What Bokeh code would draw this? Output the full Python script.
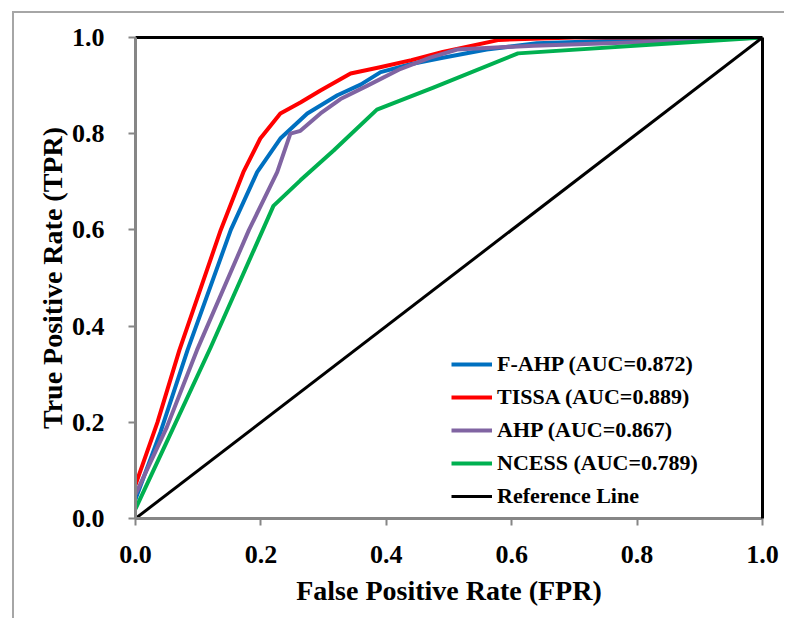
from bokeh.plotting import figure
from bokeh.models import (Range1d, FixedTicker, LinearAxis, Legend, LegendItem,
                          PrintfTickFormatter)
from bokeh.embed import file_html
from bokeh.resources import INLINE

# ---- data ----
fahp_fpr = [0, 0.04, 0.083, 0.152, 0.194, 0.231, 0.274, 0.322, 0.359, 0.391, 0.44, 0.49, 0.56, 0.64, 0.8, 1.0]
fahp_tpr = [0.04, 0.18, 0.35, 0.6, 0.72, 0.79, 0.842, 0.88, 0.902, 0.928, 0.945, 0.958, 0.975, 0.988, 0.995, 1.0]

tissa_fpr = [0, 0.035, 0.07, 0.136, 0.172, 0.199, 0.231, 0.263, 0.295, 0.343, 0.39, 0.44, 0.49, 0.58, 0.7, 0.85, 1.0]
tissa_tpr = [0.07, 0.2, 0.35, 0.6, 0.72, 0.79, 0.842, 0.865, 0.89, 0.925, 0.938, 0.953, 0.97, 0.995, 1.0, 1.0, 1.0]

ahp_fpr = [0, 0.05, 0.098, 0.181, 0.226, 0.247, 0.263, 0.295, 0.327, 0.37, 0.423, 0.47, 0.513, 0.635, 0.8, 1.0]
ahp_tpr = [0.05, 0.19, 0.35, 0.6, 0.72, 0.80, 0.806, 0.842, 0.872, 0.90, 0.935, 0.958, 0.975, 0.983, 0.99, 1.0]

ncess_fpr = [0, 0.05, 0.12, 0.22, 0.263, 0.316, 0.385, 0.475, 0.61, 1.0]
ncess_tpr = [0.02, 0.16, 0.356, 0.65, 0.703, 0.765, 0.85, 0.896, 0.967, 1.0]

ref_fpr = [0, 1]
ref_tpr = [0, 1]

labels = ["F-AHP (AUC=0.872)", "TISSA (AUC=0.889)", "AHP (AUC=0.867)",
          "NCESS (AUC=0.789)", "Reference Line"]
colors = ["#0070C0", "#FF0000", "#8064A2", "#00B050", "#000000"]
tick_values = [0.0, 0.2, 0.4, 0.6, 0.8, 1.0]

FONT = "Liberation Serif"

p = figure(frame_width=627, frame_height=481,
           x_range=Range1d(0, 1), y_range=Range1d(0, 1),
           output_backend="svg", toolbar_location=None,
           min_border_left=121, min_border_top=24,
           min_border_right=22, min_border_bottom=100,
           background_fill_color="white", border_fill_color="white")
# outer chart-area border (only left and top edges are visible in the reference)
p.styles = {"margin-left": "12px", "margin-top": "11px",
            "border-left": "2px solid #A6A6A6", "border-top": "2px solid #A6A6A6"}
p.outline_line_color = None
p.grid.visible = False

for ax in (p.xaxis[0], p.yaxis[0]):
    ax.ticker = FixedTicker(ticks=tick_values)
    ax.formatter = PrintfTickFormatter(format="%.1f")
    ax.axis_line_color = "#868686"
    ax.axis_line_width = 3
    ax.major_tick_line_color = "#868686"
    ax.major_tick_line_width = 2
    ax.major_tick_in = 0
    ax.major_tick_out = 7
    ax.minor_tick_line_color = None
    ax.major_label_text_font = FONT
    ax.major_label_text_font_style = "bold"
    ax.major_label_text_font_size = "26px"
    ax.major_label_text_color = "black"
    ax.axis_label_text_font = FONT
    ax.axis_label_text_font_style = "bold"
    ax.axis_label_text_font_size = "28px"
    ax.axis_label_text_color = "black"

p.xaxis[0].axis_label = "False Positive Rate (FPR)"
p.yaxis[0].axis_label = "True Positive Rate (TPR)"
p.xaxis[0].major_label_standoff = 20
p.yaxis[0].major_label_standoff = 24
p.xaxis[0].axis_label_standoff = 9
p.yaxis[0].axis_label_standoff = 1

for loc in ("above", "right"):
    a = LinearAxis(ticker=FixedTicker(ticks=[]), axis_line_color="black",
                   axis_line_width=3, major_tick_line_color=None,
                   minor_tick_line_color=None)
    p.add_layout(a, loc)

series = [(fahp_fpr, fahp_tpr, 4), (tissa_fpr, tissa_tpr, 4), (ahp_fpr, ahp_tpr, 4),
          (ncess_fpr, ncess_tpr, 4), (ref_fpr, ref_tpr, 3)]
items = []
for (xs, ys, w), lab, col in zip(series, labels, colors):
    r = p.line(xs, ys, line_color=col, line_width=w, line_join="round")
    items.append(LegendItem(label=lab, renderers=[r]))

legend = Legend(items=items, location=(316, 9), padding=0, margin=0,
                spacing=7, glyph_width=41, glyph_height=26, label_height=26,
                label_standoff=5, background_fill_alpha=0, border_line_color=None,
                label_text_font=FONT, label_text_font_style="bold",
                label_text_font_size="22px", label_text_color="black")
p.add_layout(legend, "center")

open("out.html", "w").write(file_html(p, INLINE))
